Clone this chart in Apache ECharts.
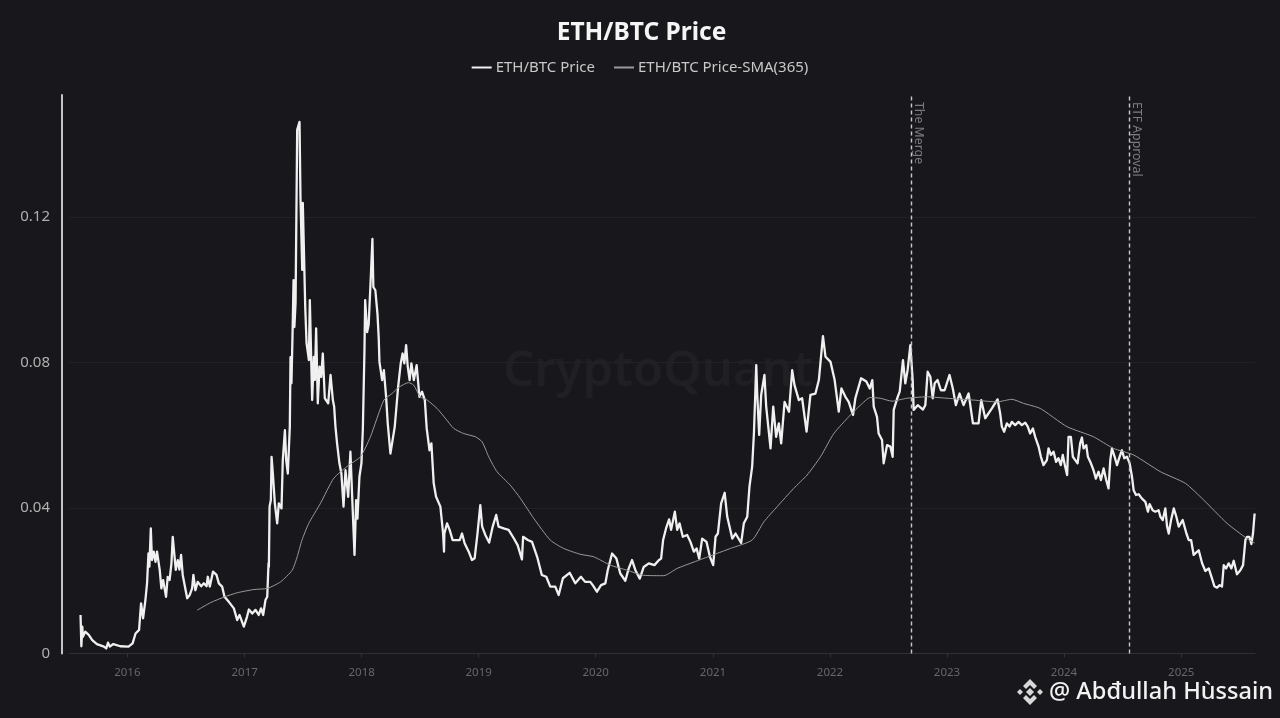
<!DOCTYPE html>
<html>
<head>
<meta charset="utf-8">
<style>html,body{margin:0;padding:0;background:#18181c}#c{width:1280px;height:718px}</style>
<script src="https://cdn.jsdelivr.net/npm/echarts@6/dist/echarts.min.js"></script>
</head>
<body>
<div id="c"></div>
<script>
// Dates are decimal years.
const priceYears = [
2015.60,2015.607,2015.615,2015.62,2015.64,2015.67,2015.70,2015.74,2015.80,2015.82,2015.835,2015.85,2015.88,2015.94,2016.01,2016.045,2016.07,2016.10,2016.117,2016.134,2016.154,2016.168,2016.18,2016.188,2016.20,2016.21,2016.225,2016.24,2016.253,2016.276,2016.29,2016.305,2016.33,2016.344,2016.36,2016.376,2016.387,2016.40,2016.413,2016.43,2016.444,2016.458,2016.472,2016.487,2016.51,2016.532,2016.552,2016.563,2016.58,2016.60,2016.63,2016.652,2016.675,2016.686,2016.703,2016.73,2016.76,2016.78,2016.808,2016.828,2016.865,2016.908,2016.936,2016.956,2016.993,2017.02,2017.036,2017.065,2017.093,2017.12,2017.14,2017.158,2017.178,2017.193,2017.204,
2017.207,2017.213,2017.224,2017.23,2017.241,2017.258,2017.278,2017.292,2017.315,2017.326,2017.344,2017.355,2017.369,2017.386,2017.392,2017.40,2017.41,2017.418,2017.425,2017.435,2017.449,2017.469,2017.477,2017.492,2017.497,2017.505,2017.518,2017.529,2017.549,2017.557,2017.577,2017.591,2017.60,2017.611,2017.625,2017.64,2017.654,2017.668,2017.685,2017.714,2017.734,2017.754,2017.765,2017.776,2017.79,2017.81,2017.827,2017.845,2017.862,2017.885,2017.904,2017.919,2017.939,2017.953,2017.964,2017.981,2017.998,2018.01,2018.024,2018.03,2018.047,2018.06,2018.081,2018.092,2018.10,2018.117,2018.135,2018.146,2018.152,2018.175,2018.19,2018.209,2018.223,2018.246,2018.26,2018.283,2018.312,2018.334,2018.35,2018.365,2018.38,2018.394,2018.41,2018.425,2018.446,2018.47,2018.494,2018.516,2018.54,2018.556,2018.58,2018.596,2018.616,2018.636,2018.673,2018.696,2018.704,
2018.707,2018.73,2018.752,2018.778,2018.81,2018.838,2018.858,2018.88,2018.915,2018.943,2018.966,2018.99,2019.014,2019.03,2019.057,2019.09,2019.12,2019.15,2019.17,2019.214,2019.256,2019.30,2019.333,2019.37,2019.38,2019.42,2019.456,2019.50,2019.54,2019.578,2019.612,2019.655,2019.684,2019.72,2019.778,2019.826,2019.874,2019.91,2019.954,
2019.975,2020.011,2020.046,2020.083,2020.103,2020.14,2020.177,2020.21,2020.253,2020.282,2020.31,2020.339,2020.376,2020.41,2020.453,2020.501,2020.54,2020.558,2020.575,2020.60,2020.626,2020.643,2020.675,2020.695,2020.715,2020.743,2020.78,2020.808,2020.837,2020.86,2020.883,2020.908,2020.945,2020.974,2021.002,2021.022,2021.042,2021.07,2021.10,2021.122,2021.165,2021.193,2021.241,2021.264,2021.293,2021.312,2021.335,2021.35,2021.37,2021.378,2021.395,2021.412,2021.44,2021.455,2021.492,2021.515,2021.54,2021.563,2021.583,2021.612,2021.65,2021.677,2021.697,2021.734,2021.762,2021.80,2021.833,2021.876,2021.905,2021.94,2021.962,2022.005,2022.04,2022.075,
2022.098,2022.132,2022.16,2022.197,2022.217,2022.266,2022.311,2022.34,2022.362,2022.374,2022.402,2022.416,2022.445,2022.459,2022.488,2022.516,2022.536,2022.545,2022.579,2022.596,2022.624,2022.644,2022.664,2022.687,2022.707,2022.715,2022.75,2022.795,2022.815,2022.835,2022.858,2022.878,2022.895,2022.92,2022.948,2022.98,2023.022,2023.05,2023.076,2023.108,2023.142,2023.185,2023.222,2023.27,2023.293,2023.327,2023.384,2023.432,
2023.455,2023.469,2023.489,2023.512,2023.535,2023.555,2023.583,2023.612,2023.64,2023.669,2023.691,2023.711,2023.734,2023.754,2023.783,2023.803,2023.825,2023.854,2023.868,2023.888,2023.911,2023.933,2023.953,2023.973,2023.99,2024.01,2024.027,2024.039,2024.059,2024.076,2024.096,2024.116,2024.138,2024.153,2024.167,2024.19,2024.204,2024.23,2024.252,2024.272,2024.295,2024.315,2024.338,2024.36,2024.38,2024.395,2024.409,2024.432,2024.452,2024.474,2024.494,2024.514,2024.537,2024.56,2024.58,
2024.594,2024.614,2024.637,2024.665,2024.694,2024.716,2024.73,2024.756,2024.779,2024.807,2024.822,2024.842,2024.864,2024.879,2024.893,2024.913,2024.936,2024.958,2024.978,2025.012,2025.044,2025.064,2025.084,2025.106,2025.149,2025.178,2025.206,2025.235,2025.263,2025.283,2025.306,2025.328,2025.348,2025.363,2025.383,2025.405,2025.428,2025.448,2025.476,2025.505,2025.528,2025.548,2025.562,2025.582,2025.599,2025.613,2025.627
];
const priceValues = [
.0106,.0020,.0074,.0046,.0060,.0051,.0037,.0026,.0019,.0014,.0030,.0019,.0026,.0020,.0019,.0028,.0055,.0065,.0138,.0097,.0147,.0193,.0275,.0239,.0344,.0257,.0280,.0252,.0280,.0230,.0179,.0202,.0156,.0211,.0202,.0248,.0321,.0275,.0230,.0257,.0231,.0271,.0216,.0211,.0152,.0161,.0179,.0216,.0174,.0197,.0185,.0193,.0185,.0211,.0184,.0225,.0216,.0193,.0184,.0156,.0142,.0124,.0092,.0106,.0074,.0101,.0121,.0110,.0120,.0106,.0124,.0106,.0147,.0156,.0248,
.0238,.0404,.0422,.0541,.0495,.0413,.0358,.0413,.0399,.0532,.0614,.0532,.0495,.0624,.0815,.0743,.0890,.1027,.0898,.0964,.1440,.1462,.1255,.1055,.1239,.1129,.0950,.0854,.0807,.0972,.0697,.0816,.0752,.0894,.0688,.0789,.0761,.0825,.0702,.0688,.0766,.0697,.0679,.0624,.0578,.0523,.0495,.0404,.0504,.0431,.0555,.0431,.0271,.0422,.0371,.0486,.0523,.0615,.0834,.0972,.0884,.0905,.1055,.1140,.1008,.0999,.0935,.0867,.0802,.0752,.0779,.0706,.0633,.0550,.0550,.0624,.0734,.0798,.0825,.0798,.0848,.0789,.0752,.0798,.0752,.0793,.0706,.0720,.0697,.0619,.0559,.0578,.0468,.0431,.0404,.0330,.0280,
.0330,.0358,.0340,.0312,.0312,.0312,.0330,.0303,.0280,.0257,.0262,.0330,.0408,.0349,.0326,.0305,.0349,.0381,.0349,.0344,.0340,.0317,.0298,.0259,.0321,.0312,.0307,.0266,.0216,.0211,.0184,.0184,.0161,.0207,.0222,.0193,.0211,.0197,.0197,
.0188,.0170,.0188,.0193,.0229,.0275,.0261,.0220,.0200,.0234,.0257,.0229,.0206,.0238,.0248,.0243,.0257,.0261,.0312,.0344,.0369,.0340,.0390,.0340,.0358,.0321,.0326,.0307,.0280,.0289,.0261,.0316,.0307,.0266,.0243,.0321,.0330,.0413,.0442,.0376,.0316,.0330,.0304,.0358,.0376,.0459,.0514,.0605,.0793,.0715,.0601,.0711,.0766,.0679,.0564,.0679,.0596,.0633,.0578,.0692,.0665,.0779,.0738,.0697,.0702,.0610,.0711,.0715,.0752,.0873,.0816,.0802,.0752,.0665,
.0729,.0706,.0692,.0656,.0702,.0757,.0748,.0729,.0752,.0679,.0651,.0605,.0587,.0523,.0573,.0569,.0541,.0670,.0706,.0720,.0807,.0743,.0780,.0848,.0752,.0670,.0683,.0671,.0683,.0775,.0761,.0702,.0743,.0752,.0724,.0724,.0766,.0729,.0683,.0715,.0683,.0715,.0633,.0633,.0697,.0647,.0674,.0699,
.0660,.0624,.0610,.0633,.0624,.0637,.0628,.0637,.0628,.0635,.0624,.0605,.0619,.0596,.0569,.0541,.0518,.0532,.0564,.0546,.0555,.0527,.0537,.0518,.0546,.0514,.0491,.0596,.0596,.0541,.0532,.0523,.0578,.0594,.0564,.0573,.0541,.0523,.0504,.0481,.0500,.0477,.0509,.0477,.0454,.0532,.0564,.0541,.0518,.0541,.0559,.0537,.0541,.0523,.0486,
.0449,.0436,.0438,.0426,.0417,.0390,.0411,.0394,.0390,.0394,.0376,.0367,.0399,.0349,.0330,.0367,.0399,.0376,.0349,.0367,.0330,.0312,.0312,.0271,.0284,.0248,.0227,.0234,.0206,.0185,.0181,.0188,.0184,.0243,.0234,.0248,.0234,.0255,.0218,.0229,.0243,.0312,.0321,.0321,.0301,.0330,.0385
];
const smaYears = [
2016.595,2016.71,2016.823,2016.936,2017.08,2017.193,2017.307,2017.406,2017.449,2017.49,2017.548,2017.648,2017.762,2017.89,2017.99,2018.075,2018.19,2018.26,2018.317,2018.40,2018.445,2018.50,2018.56,2018.644,2018.715,2018.787,2018.872,2018.972,2019.03,2019.086,2019.157,2019.27,2019.356,2019.47,2019.612,2019.726,2019.868,2019.983,2020.125,2020.268,2020.41,2020.58,2020.695,2020.866,2021.008,2021.15,2021.335,2021.435,2021.549,2021.69,2021.805,2021.919,2022.033,2022.175,2022.26,2022.345,2022.43,2022.53,2022.658,2022.83,2023.0,2023.227,2023.427,2023.555,2023.654,2023.797,2024.025,2024.252,2024.423,2024.594,2024.822,2025.035,2025.192,2025.391,2025.562,2025.627
];
const smaValues = [
.0119,.0140,.0155,.0167,.0176,.0179,.0197,.0229,.0266,.0312,.0358,.0413,.0482,.0518,.0541,.0596,.0697,.0715,.0732,.0745,.0738,.0706,.0697,.0674,.0647,.0619,.0605,.0596,.0582,.0541,.0500,.0463,.0427,.0372,.0312,.0289,.0273,.0266,.0243,.0229,.0215,.0214,.0234,.0255,.0272,.0289,.0312,.0362,.0404,.0454,.0491,.0541,.0605,.0656,.0683,.0704,.0702,.0694,.0702,.0706,.0702,.0697,.0692,.0699,.0688,.0674,.0624,.0596,.0564,.0546,.0500,.0468,.0422,.0358,.0316,.0304
];
const eventNames = ['The Merge', 'ETF Approval'];
const eventDates = ['2022-09-11', '2024-07-23'];
const yTicks = [0, 0.04, 0.08, 0.12];

function yearToMs(y) {
  const w = Math.floor(y), a = Date.UTC(w, 0, 1), b = Date.UTC(w + 1, 0, 1);
  return a + (y - w) * (b - a);
}
const pair = (ys, vs) => ys.map((y, i) => [yearToMs(y), vs[i]]);
const FONT = '"Noto Sans", sans-serif';

const chart = echarts.init(document.getElementById('c'), null, { renderer: 'canvas' });
chart.setOption({
  backgroundColor: '#18181c',
  animation: false,
  textStyle: { fontFamily: FONT },
  title: {
    text: 'ETH/BTC Price', left: 636.5, top: 16, textAlign: 'center',
    textStyle: { color: '#f5f5f5', fontSize: 24.5, fontWeight: 'bold', fontFamily: FONT }
  },
  legend: {
    top: 55, left: 'center', itemWidth: 20, itemHeight: 2, itemGap: 19, icon: 'rect',
    data: ['ETH/BTC Price', 'ETH/BTC Price-SMA(365)'],
    textStyle: { color: '#c8c8c8', fontSize: 15, fontFamily: FONT, padding: [0, 0, 0, -1] }
  },
  grid: { left: 69, right: 25, top: 95, bottom: 64.5 },
  xAxis: {
    type: 'time',
    min: Date.UTC(2015, 6, 3),
    max: Date.UTC(2025, 7, 19),
    splitNumber: 10,
    axisLine: { lineStyle: { color: '#303035', width: 1 } },
    axisTick: { show: true, length: 4, lineStyle: { color: '#303035' } },
    splitLine: { show: false },
    axisLabel: {
      color: '#66666b', fontSize: 11.5, margin: 13, fontFamily: FONT,
      formatter: v => String(new Date(v).getUTCFullYear()),
      showMinLabel: false, showMaxLabel: false
    }
  },
  yAxis: {
    type: 'value', min: 0, max: 0.1536, interval: yTicks[1] - yTicks[0], offset: 7,
    axisLine: { show: true, lineStyle: { color: '#c4c4c4', width: 2 } },
    axisTick: { show: false },
    splitLine: { showMaxLine: false, showMinLine: false, lineStyle: { color: '#212126', width: 1 } },
    axisLabel: {
      color: '#b0b0b0', fontSize: 15, margin: 12, fontFamily: FONT,
      showMaxLabel: false,
      formatter: v => (Math.abs(v) < 1e-9 ? '0' : (+v).toFixed(2))
    }
  },
  graphic: [
    { type: 'text', left: 503, top: 348, silent: true, z: 0,
      style: { text: 'CryptoQuant', fill: '#202024', font: '600 49px ' + FONT } },
    { type: 'group', left: 1017, top: 679, silent: true, z: 50, children: [
      { type: 'polygon', shape: { points: [[13,0],[20,7],[17,10],[13,6],[9,10],[6,7]] }, style: { fill: '#d8d8d8' } },
      { type: 'polygon', shape: { points: [[13,9],[17,13],[13,17],[9,13]] }, style: { fill: '#d8d8d8' } },
      { type: 'polygon', shape: { points: [[3,10],[6,13],[3,16],[0,13]] }, style: { fill: '#d8d8d8' } },
      { type: 'polygon', shape: { points: [[23,10],[26,13],[23,16],[20,13]] }, style: { fill: '#d8d8d8' } },
      { type: 'polygon', shape: { points: [[13,26],[20,19],[17,16],[13,20],[9,16],[6,19]] }, style: { fill: '#d8d8d8' } }
    ] },
    { type: 'text', left: 1049, top: 680, silent: true, z: 50,
      style: { text: '@ Abđullah Hùssain', fill: '#f2f2f2', font: '500 23.6px ' + FONT } }
  ],
  series: [
    {
      name: 'ETH/BTC Price', type: 'line', showSymbol: false, symbol: 'none',
      data: pair(priceYears, priceValues),
      lineStyle: { color: '#f0f0f0', width: 2.3, join: 'round' }, itemStyle: { color: '#f2f2f2' },
      z: 3,
      markLine: {
        silent: true, symbol: 'none', animation: false,
        lineStyle: { color: '#c8c8c8', type: [4, 3], width: 1.4 },
        label: {
          show: true, position: 'insideEnd', rotate: -90, distance: 7,
          align: 'left', verticalAlign: 'bottom', padding: [0, 0, 1, 14],
          color: '#7c7c80', fontSize: 12.3, fontFamily: FONT,
          formatter: p => p.name
        },
        data: eventNames.map((n, i) => ({ name: n, xAxis: new Date(eventDates[i]).getTime() }))
      }
    },
    {
      name: 'ETH/BTC Price-SMA(365)', type: 'line', showSymbol: false, symbol: 'none',
      data: pair(smaYears, smaValues), smooth: 0.2,
      lineStyle: { color: '#9a9a9a', width: 1 }, itemStyle: { color: '#9a9a9a' },
      z: 4
    }
  ]
});
</script>
</body>
</html>
